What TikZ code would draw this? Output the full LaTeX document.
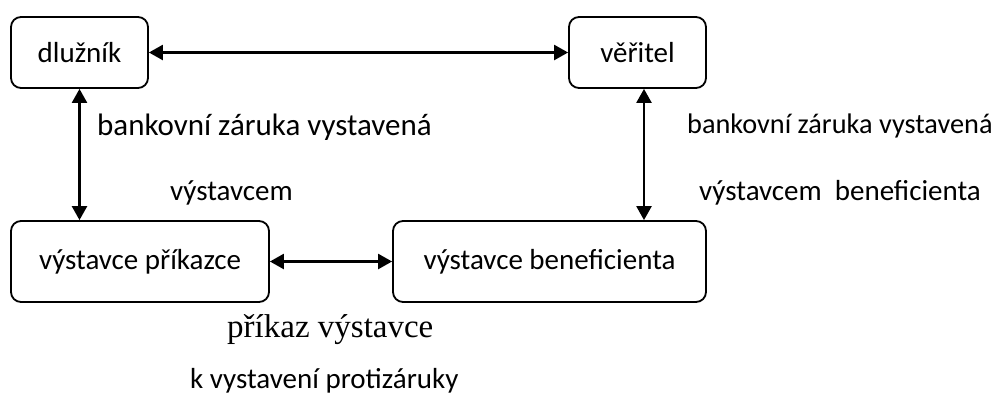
\documentclass[tikz,border=0pt]{standalone}
\usepackage{fontspec}
\setmainfont{Carlito}
\newfontfamily\serifrm{Liberation Serif}
\usetikzlibrary{arrows.meta}
\begin{document}
\begin{tikzpicture}[x=1pt,y=-1pt,
  box/.style={draw,line width=1.8pt,rounded corners=10pt,inner sep=0pt,
    font=\fontsize{29}{34}\selectfont},
  link/.style={line width=2.4pt,{Triangle[length=14pt,width=15pt]}-{Triangle[length=14pt,width=15pt]}},
  lbl/.style={inner sep=0pt,anchor=base west}]
\useasboundingbox (0,0) rectangle (1002,397);
\node[box,minimum width=137pt,minimum height=71pt] (dl) at (79.5,52.5) {dlužník};
\node[box,minimum width=137pt,minimum height=71pt] (ve) at (637.5,52.5) {věřitel};
\node[box,minimum width=258pt,minimum height=81pt] (vp) at (140,261.5) {výstavce příkazce};
\node[box,minimum width=313pt,minimum height=81pt] (vb) at (549.5,261.5) {výstavce beneficienta};
\draw[link] (dl.east) -- (ve.west);
\draw[link] (dl.south) -- (dl.south |- vp.north);
\coordinate (rt) at ([xshift=6.5pt]ve.south);
\draw[link] (rt) -- (rt |- vb.north);
\draw[link] (vp.east) -- (vb.west);
\node[lbl,font=\fontsize{31}{36}\selectfont] (t1) at (97,135) {bankovní záruka vystavená};
\node[lbl,font=\fontsize{29}{34}\selectfont] (t2) at (170,200) {výstavcem};
\node[lbl,font=\fontsize{28.3}{33}\selectfont] (t3) at (687,133) {bankovní záruka vystavená};
\node[lbl,font=\fontsize{29}{34}\selectfont] (t4) at (699,200) {výstavcem\ \ beneficienta};
\node[lbl,font=\serifrm\fontsize{33}{38}\selectfont] (t5) at (227,337) {příkaz výstavce};
\node[lbl,font=\fontsize{29}{34}\selectfont] (t6) at (190,388) {k vystavení protizáruky};
\end{tikzpicture}
\end{document}
